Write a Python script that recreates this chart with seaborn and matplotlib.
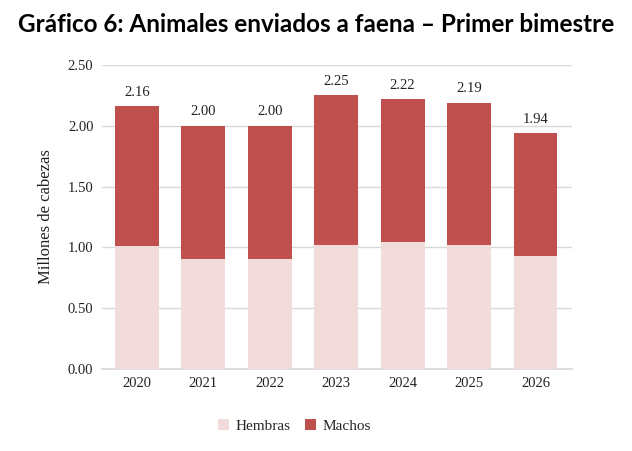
import matplotlib
matplotlib.use("Agg")
import matplotlib.pyplot as plt
import pandas as pd
import seaborn as sns

# Datos (millones de cabezas)
years = ["2020", "2021", "2022", "2023", "2024", "2025", "2026"]
hembras = [1.01, 0.90, 0.905, 1.02, 1.04, 1.02, 0.925]
totales = [2.16, 2.00, 2.00, 2.25, 2.22, 2.19, 1.94]
machos = [t - h for t, h in zip(totales, hembras)]

COLOR_H = "#F2DCDB"
COLOR_M = "#C0504D"

sns.set_theme(style="white")
plt.rcParams["font.family"] = ["Liberation Serif", "DejaVu Serif"]

df = pd.DataFrame({"Año": years, "Hembras": hembras, "Total": totales})

fig = plt.figure(figsize=(6.32, 4.51), dpi=100)
ax = fig.add_axes([0.161, 0.182, 0.744, 0.674])

# Total (barra completa) en rojo, hembras superpuestas abajo en rosa
sns.barplot(data=df, x="Año", y="Total", color=COLOR_M, width=0.66,
            saturation=1, ax=ax, label="Machos", zorder=2, linewidth=0)
sns.barplot(data=df, x="Año", y="Hembras", color=COLOR_H, width=0.66,
            saturation=1, ax=ax, label="Hembras", zorder=3, linewidth=0)

for i, t in enumerate(totales):
    ax.text(i, t + 0.06, f"{t:.2f}", ha="center", va="bottom", fontsize=10.5,
            color="#222222")

ax.set_ylim(0, 2.5)
ax.set_xlim(-0.53, 6.55)
ax.set_yticks([0, 0.5, 1.0, 1.5, 2.0, 2.5])
ax.set_yticklabels([f"{v:.2f}" for v in [0, 0.5, 1.0, 1.5, 2.0, 2.5]])
ax.yaxis.grid(True, color="#D9D9D9", lw=1, zorder=0)
ax.set_axisbelow(True)
for s in ax.spines.values():
    s.set_visible(False)
ax.spines["bottom"].set_visible(True)
ax.spines["bottom"].set_color("#D9D9D9")
ax.tick_params(axis="both", length=0, labelsize=10.5, colors="#222222", pad=6)
ax.set_xlabel("")
ax.set_ylabel("Millones de cabezas", fontsize=12, color="#222222", labelpad=10)

handles, labels = ax.get_legend_handles_labels()
order = [labels.index("Hembras"), labels.index("Machos")]
ax.legend([handles[k] for k in order], [labels[k] for k in order],
          loc="upper center", bbox_to_anchor=(0.41, -0.12), ncol=2,
          frameon=False, fontsize=11, handlelength=0.7, handleheight=0.7,
          columnspacing=1.0, handletextpad=0.4)

fig.text(0.5, 0.945, "Gráfico 6: Animales enviados a faena – Primer bimestre",
         ha="center", va="center", fontsize=17.5, fontweight="bold",
         family=["Lato", "DejaVu Sans"], color="black")

fig.savefig("out.png", dpi=100)
